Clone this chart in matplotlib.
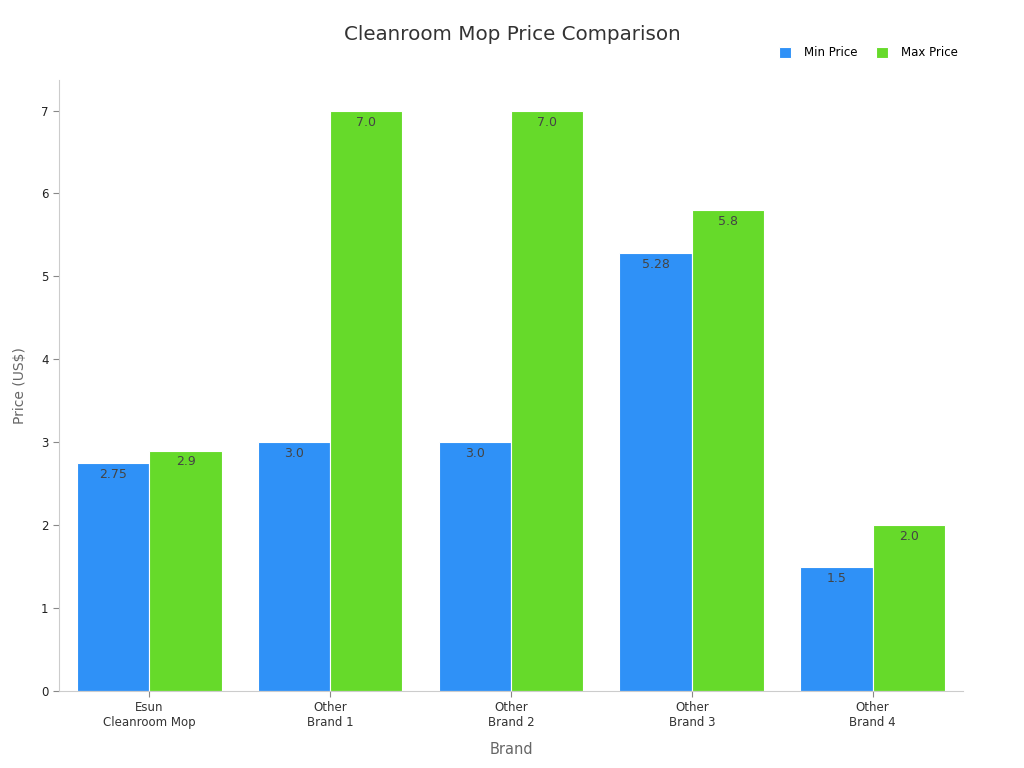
import numpy as np
import matplotlib
matplotlib.use('Agg')
import matplotlib.pyplot as plt

brands = ['Esun\nCleanroom Mop', 'Other\nBrand 1', 'Other\nBrand 2', 'Other\nBrand 3', 'Other\nBrand 4']
min_price = [2.75, 3.0, 3.0, 5.28, 1.5]
max_price = [2.9, 7.0, 7.0, 5.8, 2.0]

blue = '#2f91f7'
green = '#66da2a'

fig = plt.figure(figsize=(10.24, 7.68), dpi=100)
ax = fig.add_axes([0.0576, 0.1003, 0.8828, 0.7957])

x = np.arange(len(brands))
w = 0.4
b1 = ax.bar(x - w / 2, min_price, w, color=blue, edgecolor='white', linewidth=0.8, label='Min Price')
b2 = ax.bar(x + w / 2, max_price, w, color=green, edgecolor='white', linewidth=0.8, label='Max Price')

for bars, vals in [(b1, min_price), (b2, max_price)]:
    for bar, v in zip(bars, vals):
        ax.text(bar.get_x() + bar.get_width() / 2, v - 0.06, str(v),
                ha='center', va='top', fontsize=9, color='#444444')

ax.set_xlim(-0.5, 4.5)
ax.set_ylim(0, 7.37)
ax.set_xticks(x)
ax.set_xticklabels(brands, fontsize=8.5, color='#333333')
ax.set_yticks(range(8))
ax.tick_params(axis='y', labelsize=8.5, colors='#333333')
ax.tick_params(axis='both', color='#888888', length=4)
for tl in ax.get_yticklabels():
    tl.set_color('#222222')

for s in ['top', 'right']:
    ax.spines[s].set_visible(False)
for s in ['left', 'bottom']:
    ax.spines[s].set_color('#cccccc')

ax.set_xlabel('Brand', fontsize=10.5, color='#666666', labelpad=9)
ax.set_ylabel('Price (US$)', fontsize=10, color='#666666', labelpad=10)

fig.suptitle('Cleanroom Mop Price Comparison', fontsize=14.3, color='#333333', y=0.968)

ax.legend(loc='upper right', bbox_to_anchor=(1.006, 1.072), ncol=2, frameon=False,
          fontsize=8.5, handlelength=1.05, handleheight=1.05, columnspacing=1.5, handletextpad=1.1)

fig.savefig('out.png', dpi=100)
